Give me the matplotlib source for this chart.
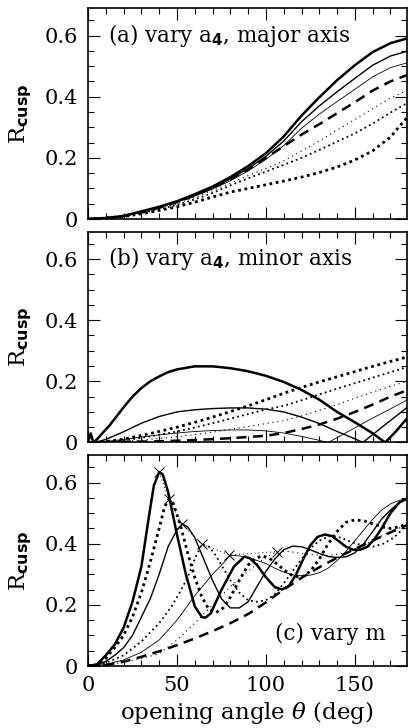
import numpy as np
import matplotlib
matplotlib.use("Agg")
import matplotlib.pyplot as plt
from matplotlib.ticker import MultipleLocator, FixedLocator

plt.rcParams['font.family'] = ['DejaVu Serif']
plt.rcParams['mathtext.fontset'] = 'custom'
plt.rcParams['mathtext.rm'] = 'DejaVu Serif'
plt.rcParams['mathtext.it'] = 'DejaVu Serif:italic'
plt.rcParams['mathtext.bf'] = 'DejaVu Sans:bold'
plt.rcParams['mathtext.sf'] = 'DejaVu Sans:bold'

# ---- panel (a): vary a4, major axis ----
a_theta = [0, 10, 20, 30, 40, 50, 60, 70, 80, 90, 100, 110, 120, 130, 140, 150, 160, 170, 179]
a_thick = [0, 0.003, 0.010, 0.025, 0.040, 0.058, 0.081, 0.106, 0.137, 0.173, 0.215, 0.270, 0.338, 0.398, 0.454, 0.503, 0.546, 0.575, 0.590]
a_med   = [0, 0.003, 0.010, 0.024, 0.039, 0.057, 0.078, 0.102, 0.131, 0.165, 0.205, 0.255, 0.318, 0.370, 0.416, 0.460, 0.503, 0.533, 0.548]
a_thin  = [0, 0.003, 0.010, 0.023, 0.038, 0.055, 0.075, 0.098, 0.125, 0.157, 0.195, 0.240, 0.297, 0.343, 0.384, 0.424, 0.465, 0.495, 0.510]
a_dash  = [0, 0.003, 0.010, 0.022, 0.037, 0.055, 0.077, 0.102, 0.130, 0.162, 0.200, 0.238, 0.276, 0.310, 0.346, 0.382, 0.420, 0.450, 0.470]
a_dot1  = [0, 0.003, 0.010, 0.021, 0.035, 0.050, 0.070, 0.093, 0.117, 0.142, 0.165, 0.190, 0.222, 0.255, 0.291, 0.325, 0.361, 0.395, 0.420]
a_dot2  = [0, 0.003, 0.009, 0.019, 0.032, 0.046, 0.064, 0.085, 0.110, 0.133, 0.155, 0.177, 0.200, 0.226, 0.253, 0.280, 0.312, 0.348, 0.378]
a_dot3  = [0, 0.003, 0.008, 0.017, 0.028, 0.040, 0.055, 0.072, 0.088, 0.100, 0.112, 0.124, 0.137, 0.152, 0.170, 0.193, 0.223, 0.268, 0.330]

# ---- panel (b): vary a4, minor axis ----
b_theta_thick = [0, 1.5, 3, 5, 8, 12, 16, 20, 25, 30, 35, 40, 45, 50, 60, 70, 80, 90, 100, 110, 120, 130, 140, 150, 160, 167, 173, 179]
b_thick = [0, 0.030, 0.0, 0.010, 0.030, 0.055, 0.085, 0.115, 0.150, 0.178, 0.200, 0.216, 0.230, 0.239, 0.249, 0.249, 0.243, 0.233, 0.218, 0.198, 0.172, 0.140, 0.100, 0.066, 0.030, 0.0, 0.036, 0.077]
b_theta_med = [0, 5, 10, 20, 30, 40, 50, 60, 70, 80, 90, 100, 110, 120, 130, 140, 150, 154.5, 160, 170, 179]
b_med = [0, 0.002, 0.010, 0.035, 0.063, 0.085, 0.100, 0.107, 0.111, 0.113, 0.113, 0.109, 0.100, 0.083, 0.062, 0.036, 0.012, 0.0, 0.026, 0.072, 0.113]
b_theta_thin = [0, 10, 20, 30, 40, 50, 60, 70, 80, 90, 100, 110, 120, 130, 135, 140, 150, 160, 170, 179]
b_thin = [0, 0.003, 0.010, 0.018, 0.025, 0.031, 0.036, 0.039, 0.041, 0.041, 0.038, 0.031, 0.020, 0.007, 0.0, 0.016, 0.048, 0.080, 0.110, 0.138]
b_theta_dash = [0, 20, 40, 60, 80, 100, 110, 120, 130, 140, 150, 160, 170, 179]
b_dash = [0, 0.002, 0.004, 0.008, 0.014, 0.022, 0.031, 0.044, 0.059, 0.078, 0.100, 0.124, 0.150, 0.170]
b_theta_dot = [0, 10, 20, 30, 40, 50, 60, 70, 80, 90, 100, 110, 120, 130, 140, 150, 160, 170, 179]
b_dot1 = [0, 0.001, 0.004, 0.008, 0.013, 0.019, 0.026, 0.034, 0.043, 0.052, 0.062, 0.071, 0.087, 0.105, 0.124, 0.145, 0.165, 0.184, 0.200]
b_dot2 = [0, 0.002, 0.007, 0.015, 0.025, 0.036, 0.049, 0.063, 0.078, 0.093, 0.108, 0.120, 0.138, 0.157, 0.176, 0.194, 0.212, 0.230, 0.246]
b_dot3 = [0, 0.003, 0.011, 0.023, 0.036, 0.050, 0.066, 0.083, 0.101, 0.120, 0.140, 0.161, 0.180, 0.198, 0.215, 0.232, 0.249, 0.265, 0.279]

# ---- panel (c): vary m ----
c_theta_dash = [0, 10, 20, 30, 40, 50, 60, 70, 80, 90, 100, 110, 120, 130, 140, 150, 160, 170, 179]
c_dash = [0, 0.003, 0.014, 0.030, 0.048, 0.068, 0.090, 0.114, 0.140, 0.170, 0.208, 0.250, 0.288, 0.323, 0.354, 0.383, 0.410, 0.437, 0.460]
c_theta_m8 = [0, 5, 10, 15, 20, 25, 30, 34, 37, 40, 42, 45, 50, 55, 60, 64, 66, 69, 75, 82, 88, 91, 95, 100, 105, 109, 113, 117, 121, 125, 129, 133, 137, 141, 145, 149, 153, 157, 161, 165, 170, 175, 179]
c_m8 = [0, 0.005, 0.035, 0.070, 0.125, 0.210, 0.325, 0.480, 0.590, 0.634, 0.627, 0.570, 0.430, 0.300, 0.195, 0.160, 0.158, 0.172, 0.249, 0.325, 0.358, 0.352, 0.330, 0.290, 0.258, 0.250, 0.262, 0.300, 0.350, 0.395, 0.422, 0.430, 0.425, 0.408, 0.390, 0.380, 0.380, 0.390, 0.415, 0.450, 0.500, 0.535, 0.546]
c_theta_m7 = [0, 5, 10, 15, 20, 25, 30, 35, 40, 43, 45.4, 48, 52, 56, 60, 64, 68, 72, 76, 80, 85, 90, 94, 98, 102, 106, 110, 115, 120, 125, 130, 135, 140, 145, 150, 155, 160, 165, 170, 175, 179]
c_m7 = [0, 0.004, 0.025, 0.060, 0.100, 0.160, 0.240, 0.340, 0.450, 0.520, 0.546, 0.530, 0.460, 0.370, 0.290, 0.225, 0.185, 0.175, 0.190, 0.225, 0.280, 0.330, 0.352, 0.360, 0.352, 0.335, 0.315, 0.295, 0.290, 0.310, 0.350, 0.400, 0.440, 0.470, 0.478, 0.475, 0.465, 0.455, 0.450, 0.455, 0.465]
c_theta_m6 = [0, 5, 10, 15, 20, 25, 30, 35, 40, 45, 50, 53, 56, 60, 65, 70, 75, 80, 85, 90, 95, 100, 105, 110, 115, 120, 125, 130, 135, 140, 145, 150, 155, 160, 165, 170, 175, 179]
c_m6 = [0, 0.003, 0.015, 0.035, 0.060, 0.100, 0.160, 0.220, 0.300, 0.390, 0.445, 0.465, 0.455, 0.420, 0.350, 0.280, 0.220, 0.190, 0.190, 0.210, 0.260, 0.310, 0.350, 0.380, 0.392, 0.390, 0.380, 0.368, 0.358, 0.355, 0.357, 0.370, 0.400, 0.440, 0.480, 0.510, 0.535, 0.546]
c_theta_m5 = [0, 10, 20, 30, 40, 47, 52, 56, 60, 64, 68, 72, 76, 80, 85, 90, 95, 100, 105, 110, 115, 120, 125, 130, 136, 142, 148, 154, 160, 166, 172, 179]
c_m5 = [0, 0.010, 0.035, 0.080, 0.140, 0.195, 0.245, 0.290, 0.350, 0.398, 0.390, 0.360, 0.320, 0.280, 0.240, 0.215, 0.210, 0.215, 0.235, 0.270, 0.310, 0.350, 0.385, 0.410, 0.425, 0.420, 0.405, 0.395, 0.390, 0.400, 0.420, 0.460]
c_theta_m4 = [0, 10, 20, 30, 40, 50, 60, 70, 75, 80, 85, 90, 95, 100, 105, 110, 115, 120, 125, 130, 135, 140, 145, 150, 155, 160, 165, 170, 175, 179]
c_m4 = [0, 0.005, 0.020, 0.045, 0.085, 0.150, 0.230, 0.300, 0.330, 0.362, 0.360, 0.355, 0.345, 0.335, 0.320, 0.307, 0.298, 0.295, 0.297, 0.305, 0.320, 0.345, 0.375, 0.410, 0.445, 0.480, 0.510, 0.530, 0.542, 0.546]
c_theta_m3 = [0, 10, 20, 30, 40, 50, 60, 70, 75, 80, 90, 100, 106, 112, 118, 124, 130, 136, 142, 148, 154, 160, 166, 172, 179]
c_m3 = [0, 0.003, 0.012, 0.025, 0.040, 0.085, 0.140, 0.200, 0.230, 0.260, 0.310, 0.355, 0.374, 0.375, 0.370, 0.365, 0.362, 0.362, 0.367, 0.378, 0.392, 0.410, 0.428, 0.445, 0.460]
c_peak_theta = [40, 45.4, 52.8, 64, 79.5, 106]
c_peak_R = [0.634, 0.546, 0.465, 0.398, 0.363, 0.374]

# line styles, same order in every panel
thick_solid = dict(color='k', lw=1.8, ls='-')
med_solid = dict(color='k', lw=1.0, ls='-')
thin_solid = dict(color='k', lw=0.6, ls='-')
thick_dash = dict(color='k', lw=1.8, ls=(0, (4, 2.6)))
thin_dot = dict(color='k', lw=0.8, ls=(0, (1, 3.4)))
med_dot = dict(color='k', lw=1.3, ls=(0, (1, 1.8)))
thick_dot = dict(color='k', lw=2.0, ls=(0, (1, 1.3)))

fig = plt.figure(figsize=(4.08, 7.28), dpi=100)
W, H = 408.0, 728.0
left, right = 88 / W, 406.5 / W
ax_a = fig.add_axes([left, 1 - 219 / H, right - left, 211 / H])
ax_b = fig.add_axes([left, 1 - 442.5 / H, right - left, 211 / H])
ax_c = fig.add_axes([left, 1 - 666 / H, right - left, 211 / H])

ax_a.plot(a_theta, a_dot3, **thick_dot)
ax_a.plot(a_theta, a_dot2, **med_dot)
ax_a.plot(a_theta, a_dot1, **thin_dot)
ax_a.plot(a_theta, a_dash, **thick_dash)
ax_a.plot(a_theta, a_thin, **thin_solid)
ax_a.plot(a_theta, a_med, **med_solid)
ax_a.plot(a_theta, a_thick, **thick_solid)

ax_b.plot(b_theta_dot, b_dot3, **thick_dot)
ax_b.plot(b_theta_dot, b_dot2, **med_dot)
ax_b.plot(b_theta_dot, b_dot1, **thin_dot)
ax_b.plot(b_theta_dash, b_dash, **thick_dash)
ax_b.plot(b_theta_thin, b_thin, **thin_solid)
ax_b.plot(b_theta_med, b_med, **med_solid)
ax_b.plot(b_theta_thick, b_thick, **thick_solid)

ax_c.plot(c_theta_dash, c_dash, **thick_dash)
ax_c.plot(c_theta_m3, c_m3, **thin_dot)
ax_c.plot(c_theta_m4, c_m4, **thin_solid)
ax_c.plot(c_theta_m5, c_m5, **med_dot)
ax_c.plot(c_theta_m6, c_m6, **med_solid)
ax_c.plot(c_theta_m7, c_m7, **thick_dot)
ax_c.plot(c_theta_m8, c_m8, **thick_solid)
ax_c.plot(c_peak_theta, c_peak_R, color='k', lw=0.7, ls=(0, (1, 3)))
ax_c.plot(c_peak_theta, c_peak_R, 'x', color='k', ms=7, mew=0.7)

fs = 15
for ax in (ax_a, ax_b, ax_c):
    ax.set_xlim(0, 179)
    ax.set_ylim(0, 0.69)
    ax.xaxis.set_major_locator(MultipleLocator(50))
    ax.xaxis.set_minor_locator(MultipleLocator(10))
    ax.yaxis.set_major_locator(FixedLocator([0, 0.2, 0.4, 0.6]))
    ax.yaxis.set_minor_locator(MultipleLocator(0.05))
    ax.set_yticklabels(['0', '0.2', '0.4', '0.6'])
    ax.tick_params(which='both', direction='in', top=True, right=True,
                   labelsize=fs, width=0.8)
    ax.tick_params(which='major', length=8.5, pad=7)
    ax.tick_params(which='minor', length=4.5)
    for s in ax.spines.values():
        s.set_linewidth(1.2)
    ax.set_ylabel(r'R$_{\mathsf{cusp}}$', fontsize=fs + 1.5, va='center')
    ax.yaxis.set_label_coords(-0.21, 0.5)

ax_a.tick_params(labelbottom=False)
ax_b.tick_params(labelbottom=False)
ax_c.set_xlabel(r'opening angle $\theta$ (deg)', fontsize=fs + 1.5, va='center')
ax_c.xaxis.set_label_coords(0.5, -0.22)

lab = fs + 0.5
ax_a.text(0.063, 0.872, r'(a) vary a$_{\mathbf{4}}$, major axis', transform=ax_a.transAxes,
          fontsize=lab, va='center', ha='left')
ax_b.text(0.063, 0.872, r'(b) vary a$_{\mathbf{4}}$, minor axis', transform=ax_b.transAxes,
          fontsize=lab, va='center', ha='left')
ax_c.text(0.936, 0.152, '(c) vary m', transform=ax_c.transAxes,
          fontsize=lab, va='center', ha='right')

fig.savefig('out.png', dpi=100)
